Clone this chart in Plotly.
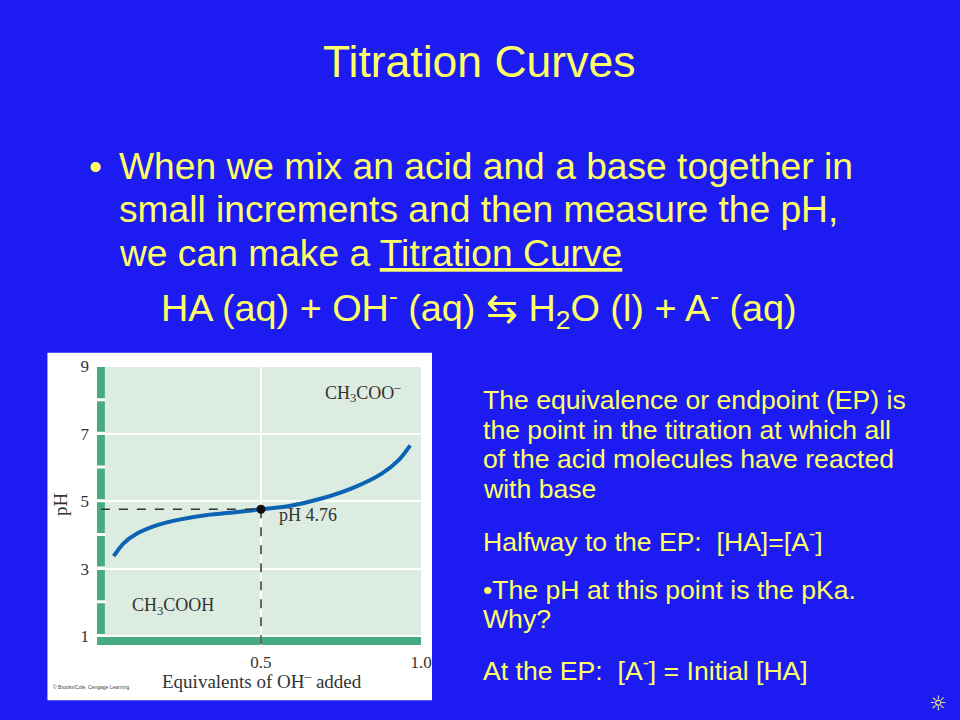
import plotly.graph_objects as go

W, H = 960, 720

# ---- data ----
equivalents = [0.040, 0.071, 0.113, 0.176, 0.249, 0.332, 0.426, 0.500, 0.584, 0.689, 0.793, 0.877, 0.929, 0.966]
ph_values = [3.37, 3.75, 4.04, 4.29, 4.46, 4.59, 4.68, 4.76, 4.85, 5.08, 5.42, 5.82, 6.21, 6.66]
half_eq = 0.5
pka = 4.76
y_ticks = [1, 3, 5, 7, 9]
y_tick_text = ["1", "3", "5", "7", "9"]
x_ticks = [0.5, 1.0]
x_tick_text = ["0.5", "1.0"]
bar_segments = [1, 2, 3, 4, 5, 6, 7, 8]

BLUE = "#1C1CF2"
YELLOW = "#FFFF66"
PLOT_BG = "#DDECE0"
BAR = "#46AA82"
CURVE = "#0B63B3"
INK = "#333333"
SERIF = "Liberation Serif, Times New Roman, serif"
SANS = "Liberation Sans, Arial, sans-serif"

# axis geometry (pixels)
px_left, px_right = 98, 426
py_top, py_bot = 362, 645
x_range = [-0.0125, 1.0]
y_range = [0.733, 9.03]

def px(x):
    return x / W

def py(y):
    return 1 - y / H

fig = go.Figure()

# curve
fig.add_trace(go.Scatter(x=equivalents, y=ph_values, mode="lines",
                         line=dict(color=CURVE, width=4, shape="spline", smoothing=0.8),
                         hoverinfo="skip", showlegend=False))
# dashed guides
fig.add_trace(go.Scatter(x=[0.0, half_eq], y=[pka, pka], mode="lines",
                         line=dict(color=INK, width=1.5, dash="dash"),
                         hoverinfo="skip", showlegend=False))
fig.add_trace(go.Scatter(x=[half_eq, half_eq], y=[pka, y_range[0]], mode="lines",
                         line=dict(color=INK, width=1.5, dash="dash"),
                         hoverinfo="skip", showlegend=False))
fig.add_trace(go.Scatter(x=[half_eq], y=[pka], mode="markers",
                         marker=dict(color="#111111", size=9),
                         hoverinfo="skip", showlegend=False))

shapes = []
# white inset card
shapes.append(dict(type="rect", xref="paper", yref="paper",
                   x0=px(48), x1=px(437), y0=py(701), y1=py(349),
                   fillcolor="white", line=dict(width=0), layer="below"))
# light green plotting area
shapes.append(dict(type="rect", xref="x", yref="y",
                   x0=0.0125, x1=1.0, y0=0.97, y1=y_range[1],
                   fillcolor=PLOT_BG, line=dict(width=0), layer="below"))
# left green bar, segmented
for k in bar_segments:
    y0 = k + 0.06 if k > 1 else 1.06
    y1 = k + 1 - 0.03 if k < 8 else y_range[1]
    shapes.append(dict(type="rect", xref="x", yref="y",
                       x0=x_range[0], x1=0.0125, y0=y0, y1=y1,
                       fillcolor=BAR, line=dict(width=0), layer="below"))
# bottom green bar
shapes.append(dict(type="rect", xref="x", yref="y",
                   x0=x_range[0], x1=1.0, y0=y_range[0], y1=0.97,
                   fillcolor=BAR, line=dict(width=0), layer="below"))
fig.update_layout(shapes=shapes)

ann = []

def add(text, x, y, size, color, family, xref="paper", yref="paper", xanchor="center", **kw):
    ann.append(dict(x=x, y=y, xref=xref, yref=yref, text=text, showarrow=False,
                    xanchor=xanchor, yanchor="middle",
                    font=dict(family=family, size=size, color=color), **kw))

# chart labels
add("CH<sub>3</sub>COO<sup>–</sup>", 0.818, 8.23, 18, INK, SERIF, xref="x", yref="y")
add("CH<sub>3</sub>COOH", 0.226, 1.86, 18, INK, SERIF, xref="x", yref="y")
add("pH 4.76", 0.646, 4.585, 18, INK, SERIF, xref="x", yref="y")
add("Equivalents of OH<sup>–</sup> added", px(265), py(680), 19, INK, SERIF)
add("pH", px(61), py(502), 19, INK, SERIF, textangle=-90)
add("© Brooks/Cole, Cengage Learning", px(52), py(688), 5, "#444444", SANS, xanchor="left")

# slide text
add("Titration Curves", px(485), py(54), 44.5, YELLOW, SANS)
add("•", px(88), py(160), 37, YELLOW, SANS, xanchor="left")
body = ["When we mix an acid and a base together in",
        "small increments and then measure the pH,",
        "we can make a <u>Titration Curve</u>"]
for line, yy in zip(body, [160, 204, 248]):
    add(line, px(118), py(yy), 37.2, YELLOW, SANS, xanchor="left")
add("HA (aq) + OH<sup>-</sup> (aq) ⇆ H<sub>2</sub>O (l) + A<sup>-</sup> (aq)",
    px(485), py(304), 37.8, YELLOW, SANS)
right = [("The equivalence or endpoint (EP) is", 397),
         ("the point in the titration at which all", 427),
         ("of the acid molecules have reacted", 457),
         ("with base", 487),
         ("Halfway to the EP:  [HA]=[A<sup>-</sup>]", 539),
         ("•The pH at this point is the pKa.", 589),
         ("Why?", 619),
         ("At the EP:  [A<sup>-</sup>] = Initial [HA]", 669)]
for line, yy in right:
    add(line, px(487), py(yy), 26.6, YELLOW, SANS, xanchor="left")
add("☼", px(949), py(704), 20, YELLOW, "DejaVu Sans")
fig.update_layout(annotations=ann)

fig.update_layout(
    width=W, height=H,
    margin=dict(l=0, r=0, t=0, b=0),
    paper_bgcolor=BLUE,
    plot_bgcolor="rgba(0,0,0,0)",
    xaxis=dict(domain=[px(px_left), px(px_right)], range=x_range, tickvals=x_ticks,
               ticktext=x_tick_text, showgrid=True, gridcolor="white", gridwidth=2,
               zeroline=False, showline=False, ticks="", ticklabelstandoff=5,
               tickfont=dict(family=SERIF, size=17, color=INK), fixedrange=True),
    yaxis=dict(domain=[py(py_bot), py(py_top)], range=y_range, tickvals=y_ticks,
               ticktext=y_tick_text, showgrid=True, gridcolor="white", gridwidth=2,
               zeroline=False, showline=False, ticks="", ticklabelstandoff=7,
               tickfont=dict(family=SERIF, size=17, color=INK), fixedrange=True),
    showlegend=False,
)

page_fix = (
    "document.documentElement.style.margin='0';"
    "document.documentElement.style.padding='0';"
    "document.documentElement.style.overflow='hidden';"
    "document.body.style.margin='0';"
    "document.body.style.padding='0';"
    "document.body.style.overflow='hidden';"
    "var d=document.getElementById('{plot_id}');"
    "d.style.position='fixed';d.style.left='0px';d.style.top='0px';"
)
fig.write_html("out.html", config={"displayModeBar": False}, post_script=page_fix)
